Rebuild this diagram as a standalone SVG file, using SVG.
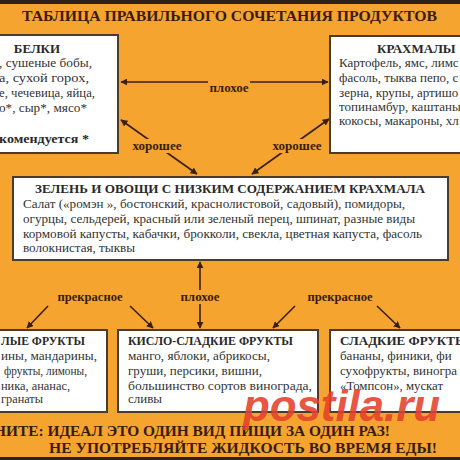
<svg xmlns="http://www.w3.org/2000/svg" width="460" height="460" viewBox="0 0 460 460">
<defs>
<style>
.bg{fill:#F5A42F}
.band{fill:#2e2216}
.box{fill:#ffffff;stroke:#4a3b2c;stroke-width:2}
.t{font-size:13px;fill:#333333}
.b{font-weight:bold;fill:#2a2a2a}
.hd{font-weight:bold;font-size:15px;fill:#3a1c05}
.lbl{font-weight:bold;font-size:13px;fill:#3a1c05;text-anchor:middle}
.lbg{fill:#F5A42F}
.ar{stroke:#3a2010;stroke-width:1.6;fill:none}
.wm{font-weight:bold;font-style:italic;font-size:44px;fill:#e5402c;fill-opacity:0.9}
</style>
<marker id="ah" viewBox="0 0 10 10" refX="9" refY="5" markerWidth="7" markerHeight="7" orient="auto-start-reverse" markerUnits="userSpaceOnUse">
<path d="M0,0 L10,5 L0,10 z" fill="#3a2010"/>
</marker>
</defs>
<rect class="bg" x="0" y="0" width="460" height="460"/>
<rect class="band" x="0" y="0" width="460" height="4"/>
<rect class="band" x="0" y="457" width="460" height="3"/>
<g font-family="Liberation Serif, DejaVu Serif, serif">
<text class="hd" x="22" y="21" textLength="415" lengthAdjust="spacingAndGlyphs">ТАБЛИЦА ПРАВИЛЬНОГО СОЧЕТАНИЯ ПРОДУКТОВ</text>

<g id="connectors">
<line class="ar" x1="121" y1="82" x2="328" y2="82" marker-start="url(#ah)" marker-end="url(#ah)"/>
<line class="ar" x1="121" y1="120" x2="197" y2="174" marker-start="url(#ah)" marker-end="url(#ah)"/>
<line class="ar" x1="252" y1="174" x2="329" y2="119" marker-start="url(#ah)" marker-end="url(#ah)"/>
<line class="ar" x1="200" y1="262" x2="200" y2="328" marker-start="url(#ah)" marker-end="url(#ah)"/>
<line class="ar" x1="48" y1="306" x2="27" y2="328" marker-end="url(#ah)"/>
<line class="ar" x1="130" y1="306" x2="153" y2="328" marker-end="url(#ah)"/>
<line class="ar" x1="295" y1="306" x2="273" y2="328" marker-end="url(#ah)"/>
<line class="ar" x1="377" y1="306" x2="400" y2="328" marker-end="url(#ah)"/>
<rect class="lbg" x="208" y="80" width="42" height="14"/>
<text class="lbl" x="229" y="92">плохое</text>
<rect class="lbg" x="132" y="139" width="51" height="14"/>
<text class="lbl" x="157" y="150" textLength="49" lengthAdjust="spacingAndGlyphs">хорошее</text>
<rect class="lbg" x="272" y="139" width="51" height="14"/>
<text class="lbl" x="297" y="150" textLength="49" lengthAdjust="spacingAndGlyphs">хорошее</text>
<rect class="lbg" x="179" y="290" width="42" height="14"/>
<text class="lbl" x="200" y="301">плохое</text>
<text class="lbl" x="90" y="301" textLength="65" lengthAdjust="spacingAndGlyphs">прекрасное</text>
<text class="lbl" x="340" y="301" textLength="65" lengthAdjust="spacingAndGlyphs">прекрасное</text>
</g>

<g id="belki">
<rect class="box" x="-5" y="35" width="123" height="118"/>
<text class="t b" x="37" y="53" text-anchor="middle">БЕЛКИ</text>
<text class="t" x="-1" y="67" textLength="93" lengthAdjust="spacingAndGlyphs">, сушеные бобы,</text>
<text class="t" x="-1" y="82" textLength="90" lengthAdjust="spacingAndGlyphs">а, сухой горох,</text>
<text class="t" x="-1" y="97" textLength="96" lengthAdjust="spacingAndGlyphs">е, чечевица, яйца,</text>
<text class="t" x="-1" y="112" textLength="88" lengthAdjust="spacingAndGlyphs">о*, сыр*, мясо*</text>
<text class="t b" x="-1" y="143" textLength="90" lengthAdjust="spacingAndGlyphs">комендуется *</text>
</g>

<g id="krahmaly">
<rect class="box" x="330" y="36" width="140" height="117"/>
<text class="t b" x="377" y="53">КРАХМАЛЫ</text>
<text class="t" x="339" y="67">Картофель, ямс, лимс</text>
<text class="t" x="339" y="82">фасоль, тыква пепо, с</text>
<text class="t" x="339" y="97">зерна, крупы, артишо</text>
<text class="t" x="339" y="111">топинамбур, каштаны</text>
<text class="t" x="339" y="125">кокосы, макароны, хл</text>
</g>

<g id="zelen">
<rect class="box" x="13" y="177" width="435" height="83"/>
<text class="t b" x="35" y="193" textLength="390" lengthAdjust="spacingAndGlyphs">ЗЕЛЕНЬ И ОВОЩИ С НИЗКИМ СОДЕРЖАНИЕМ КРАХМАЛА</text>
<text class="t" x="23" y="208" textLength="382" lengthAdjust="spacingAndGlyphs">Салат («ромэн », бостонский, краснолистовой, садовый), помидоры,</text>
<text class="t" x="23" y="223" textLength="392" lengthAdjust="spacingAndGlyphs">огурцы, сельдерей, красный или зеленый перец, шпинат, разные виды</text>
<text class="t" x="23" y="238" textLength="399" lengthAdjust="spacingAndGlyphs">кормовой капусты, кабачки, брокколи, свекла, цветная капуста, фасоль</text>
<text class="t" x="23" y="252" textLength="112" lengthAdjust="spacingAndGlyphs">волокнистая, тыквы</text>
</g>

<g id="kislye">
<rect class="box" x="-5" y="330" width="112" height="82"/>
<text class="t b" x="1" y="345" textLength="84" lengthAdjust="spacingAndGlyphs">ЛЫЕ ФРУКТЫ</text>
<text class="t" x="1" y="360" textLength="96" lengthAdjust="spacingAndGlyphs">ины, мандарины,</text>
<text class="t" x="4" y="375" textLength="83" lengthAdjust="spacingAndGlyphs">фрукты, лимоны,</text>
<text class="t" x="1" y="390" textLength="69" lengthAdjust="spacingAndGlyphs">ника, ананас,</text>
<text class="t" x="1" y="403" textLength="42" lengthAdjust="spacingAndGlyphs">гранаты</text>
</g>

<g id="kislo-sladkie">
<rect class="box" x="118" y="330" width="200" height="82"/>
<text class="t b" x="128" y="345" textLength="165" lengthAdjust="spacingAndGlyphs">КИСЛО-СЛАДКИЕ ФРУКТЫ</text>
<text class="t" x="128" y="360" textLength="142" lengthAdjust="spacingAndGlyphs">манго, яблоки, абрикосы,</text>
<text class="t" x="128" y="375" textLength="134" lengthAdjust="spacingAndGlyphs">груши, персики, вишни,</text>
<text class="t" x="128" y="390" textLength="184" lengthAdjust="spacingAndGlyphs">большинство сортов винограда,</text>
<text class="t" x="128" y="403">сливы</text>
</g>

<g id="sladkie">
<rect class="box" x="330" y="330" width="140" height="82"/>
<text class="t b" x="340" y="345">СЛАДКИЕ ФРУКТЫ</text>
<text class="t" x="340" y="360">бананы, финики, фи</text>
<text class="t" x="340" y="375">сухофрукты, виногра</text>
<text class="t" x="340" y="390" textLength="103" lengthAdjust="spacingAndGlyphs">«Томпсон», мускат</text>
</g>

<text class="hd" x="-6" y="436" textLength="396" lengthAdjust="spacingAndGlyphs">НИТЕ: ИДЕАЛ ЭТО ОДИН ВИД ПИЩИ ЗА ОДИН РАЗ!</text>
<text class="hd" x="49" y="453" textLength="388" lengthAdjust="spacingAndGlyphs">НЕ УПОТРЕБЛЯЙТЕ ЖИДКОСТЬ ВО ВРЕМЯ ЕДЫ!</text>
</g>
<text class="wm" font-family="Liberation Sans, DejaVu Sans, sans-serif" x="243" y="421" textLength="197" lengthAdjust="spacingAndGlyphs">postila.ru</text>
</svg>
